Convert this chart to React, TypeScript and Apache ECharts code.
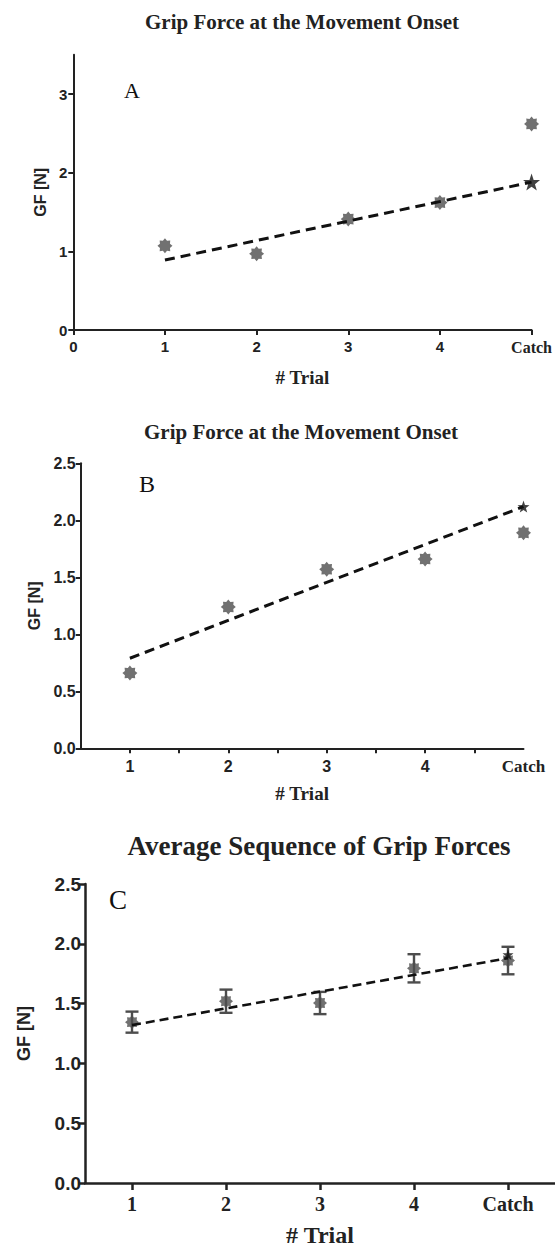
import React, { useEffect, useRef } from "react";
import * as echarts from "echarts";

// ---------- data ----------
const trials = [1, 2, 3, 4, 5];
const xTickLabels = ["1", "2", "3", "4", "Catch"];

// Panel A
const gfA = [1.07, 0.97, 1.41, 1.62, 2.62];
const fitAx = [1, 5];
const fitAy = [0.89, 1.88];
const catchStarA = 1.88;

// Panel B
const gfB = [0.66, 1.24, 1.57, 1.66, 1.89];
const fitBx = [1, 5];
const fitBy = [0.79, 2.12];
const catchStarB = 2.12;

// Panel C (mean ± error)
const gfC = [1.345, 1.52, 1.505, 1.795, 1.86];
const errC = [0.088, 0.097, 0.093, 0.118, 0.115];
const fitCx = [1, 5];
const fitCy = [1.32, 1.88];
const catchStarC = 1.91;

const titleAB = "Grip Force at the Movement Onset";
const titleC = "Average Sequence of Grip Forces";
const yName = "GF [N]";
const xName = "# Trial";

// ---------- symbols ----------
function burstPath(n: number, rOut: number, rIn: number): string {
  const pts: string[] = [];
  for (let i = 0; i < n * 2; i++) {
    const r = i % 2 === 0 ? rOut : rIn;
    const a = (Math.PI * i) / n - Math.PI / 2;
    pts.push(`${(50 + r * Math.cos(a)).toFixed(2)} ${(50 + r * Math.sin(a)).toFixed(2)}`);
  }
  return "path://M" + pts.join(" L") + " Z";
}
const BURST = burstPath(8, 50, 36);
const STAR5 = burstPath(5, 50, 20);

const SERIF = "'Liberation Serif', 'Times New Roman', serif";
const SANS = "'Liberation Sans', Arial, sans-serif";
const AXIS = "#222222";
const GRAY = "#4d4d4d";
const TXT = "#222222";

function pairs(xs: number[], ys: number[]) {
  return xs.map((x, i) => [x, ys[i]]);
}

function labelFormatter(v: number) {
  const idx = trials.indexOf(v);
  if (idx === trials.length - 1) return "{c|" + xTickLabels[idx] + "}";
  if (idx >= 0) return "{n|" + xTickLabels[idx] + "}";
  return "{n|" + v + "}";
}

export default function App() {
  const ref = useRef<HTMLDivElement>(null);

  useEffect(() => {
    if (!ref.current) return;
    const chart = echarts.init(ref.current, null, { renderer: "svg" });

    const yAxisCommon = (idx: number, nameSize: number, nameGap: number, lw: number) => ({
      type: "value",
      gridIndex: idx,
      name: yName,
      nameLocation: "middle",
      nameRotate: 90,
      nameGap,
      nameTextStyle: { fontFamily: SANS, fontWeight: "bold", fontSize: nameSize, color: TXT },
      axisLine: { show: true, lineStyle: { color: AXIS, width: lw } },
      splitLine: { show: false },
    });

    const xRich = (nSize: number, nFamily: string, cSize: number) => ({
      n: { fontFamily: nFamily, fontWeight: "bold", fontSize: nSize, color: TXT },
      c: { fontFamily: SERIF, fontWeight: "bold", fontSize: cSize, color: TXT },
    });

    const option: any = {
      animation: false,
      backgroundColor: "#ffffff",
      grid: [
        { left: 73.3, top: 54.7, width: 458.4, height: 275.3 },
        { left: 80.7, top: 463.3, width: 442.8, height: 285 },
        { left: 85, top: 884, width: 470, height: 300.3 },
      ],
      xAxis: [
        {
          type: "value",
          gridIndex: 0,
          min: 0,
          max: 5,
          interval: 1,
          name: xName,
          nameLocation: "middle",
          nameGap: 38,
          nameTextStyle: { fontFamily: SERIF, fontWeight: "bold", fontSize: 19, color: TXT },
          axisLine: { show: true, onZero: false, lineStyle: { color: AXIS, width: 2 } },
          axisTick: { show: true, length: 5, lineStyle: { color: AXIS, width: 2 } },
          axisLabel: { formatter: (v: number) => (v === 0 ? "{n|0}" : labelFormatter(v)), margin: 9, rich: xRich(15, SANS, 16) },
          splitLine: { show: false },
        },
        {
          type: "value",
          gridIndex: 1,
          min: 0.5,
          max: 5,
          interval: 0.5,
          name: xName,
          nameLocation: "middle",
          nameGap: 36,
          nameTextStyle: { fontFamily: SERIF, fontWeight: "bold", fontSize: 19, color: TXT },
          axisLine: { show: true, onZero: false, lineStyle: { color: AXIS, width: 2 } },
          axisTick: { show: true, length: 5, customValues: [1, 1.5, 2, 2.5, 3, 3.5, 4, 4.5], lineStyle: { color: AXIS, width: 2 } },
          axisLabel: { customValues: trials, formatter: labelFormatter, margin: 10, rich: xRich(16, SANS, 17) },
          splitLine: { show: false },
        },
        {
          type: "value",
          gridIndex: 2,
          min: 0.5,
          max: 5.5,
          interval: 0.5,
          name: xName,
          nameLocation: "middle",
          nameGap: 40,
          nameTextStyle: { fontFamily: SERIF, fontWeight: "bold", fontSize: 24, color: TXT },
          axisLine: { show: true, onZero: false, lineStyle: { color: AXIS, width: 2.5 } },
          axisTick: { show: true, length: 7, customValues: trials, lineStyle: { color: AXIS, width: 2.5 } },
          axisLabel: { customValues: trials, formatter: labelFormatter, margin: 11, rich: xRich(20, SERIF, 20) },
          splitLine: { show: false },
        },
      ],
      yAxis: [
        {
          ...yAxisCommon(0, 16, 24, 2),
          min: 0,
          max: 3.5,
          interval: 0.5,
          axisTick: { show: true, length: 5, customValues: [0, 1, 2, 3], lineStyle: { color: AXIS, width: 2 } },
          axisLabel: { fontFamily: SANS, fontWeight: "bold", fontSize: 15, color: TXT, margin: 6, customValues: [0, 1, 2, 3] },
        },
        {
          ...yAxisCommon(1, 16, 37, 2),
          min: 0,
          max: 2.5,
          interval: 0.5,
          axisTick: { show: true, length: 5, lineStyle: { color: AXIS, width: 2 } },
          axisLabel: { fontFamily: SANS, fontWeight: "bold", fontSize: 16, color: TXT, margin: 5, formatter: (v: number) => v.toFixed(1) },
        },
        {
          ...yAxisCommon(2, 18, 52, 2.5),
          min: 0,
          max: 2.5,
          interval: 0.5,
          axisTick: { show: true, length: 7, lineStyle: { color: AXIS, width: 2.5 } },
          axisLabel: { fontFamily: SANS, fontWeight: "bold", fontSize: 19, color: TXT, margin: 4, formatter: (v: number) => v.toFixed(1) },
        },
      ],
      graphic: [
        { type: "text", x: 302, y: 22, style: { text: titleAB, font: `bold 21px ${SERIF}`, fill: TXT, align: "center", verticalAlign: "middle" } },
        { type: "text", x: 301, y: 432, style: { text: titleAB, font: `bold 21px ${SERIF}`, fill: TXT, align: "center", verticalAlign: "middle" } },
        { type: "text", x: 319, y: 846, style: { text: titleC, font: `bold 27px ${SERIF}`, fill: TXT, align: "center", verticalAlign: "middle" } },
        { type: "text", x: 132, y: 90, style: { text: "A", font: `22px ${SERIF}`, fill: "#111", align: "center", verticalAlign: "middle" } },
        { type: "text", x: 147, y: 484, style: { text: "B", font: `24px ${SERIF}`, fill: "#111", align: "center", verticalAlign: "middle" } },
        { type: "text", x: 118, y: 900, style: { text: "C", font: `27px ${SERIF}`, fill: "#111", align: "center", verticalAlign: "middle" } },
      ],
      series: [
        // Panel A
        { type: "scatter", xAxisIndex: 0, yAxisIndex: 0, data: pairs(trials, gfA), symbol: BURST, symbolSize: 15, itemStyle: { color: GRAY }, z: 3 },
        { type: "line", xAxisIndex: 0, yAxisIndex: 0, data: pairs(fitAx, fitAy), symbol: "none", lineStyle: { color: "#111", width: 3, type: [10, 6] }, z: 4 },
        { type: "scatter", xAxisIndex: 0, yAxisIndex: 0, data: [[5, catchStarA]], symbol: STAR5, symbolSize: 17, itemStyle: { color: "#111" }, z: 5 },
        // Panel B
        { type: "scatter", xAxisIndex: 1, yAxisIndex: 1, data: pairs(trials, gfB), symbol: BURST, symbolSize: 15, itemStyle: { color: GRAY }, z: 3 },
        { type: "line", xAxisIndex: 1, yAxisIndex: 1, data: pairs(fitBx, fitBy), symbol: "none", lineStyle: { color: "#111", width: 3, type: [10, 6] }, z: 4 },
        { type: "scatter", xAxisIndex: 1, yAxisIndex: 1, data: [[5, catchStarB]], symbol: STAR5, symbolSize: 12, itemStyle: { color: "#111" }, z: 5 },
        // Panel C
        {
          type: "custom",
          xAxisIndex: 2,
          yAxisIndex: 2,
          data: trials.map((t, i) => [t, gfC[i], errC[i]]),
          z: 2,
          renderItem: (params: any, api: any) => {
            const x = api.value(0);
            const m = api.value(1);
            const e = api.value(2);
            const top = api.coord([x, m + e]);
            const bot = api.coord([x, m - e]);
            const w = 6.5;
            const st = { stroke: GRAY, lineWidth: 2.4 };
            return {
              type: "group",
              children: [
                { type: "line", shape: { x1: top[0], y1: top[1], x2: bot[0], y2: bot[1] }, style: st },
                { type: "line", shape: { x1: top[0] - w, y1: top[1], x2: top[0] + w, y2: top[1] }, style: st },
                { type: "line", shape: { x1: bot[0] - w, y1: bot[1], x2: bot[0] + w, y2: bot[1] }, style: st },
              ],
            };
          },
        },
        { type: "scatter", xAxisIndex: 2, yAxisIndex: 2, data: pairs(trials, gfC), symbol: BURST, symbolSize: 14, itemStyle: { color: GRAY }, z: 3 },
        { type: "line", xAxisIndex: 2, yAxisIndex: 2, data: pairs(fitCx, fitCy), symbol: "none", lineStyle: { color: "#111", width: 2.6, type: [9, 5] }, z: 4 },
        { type: "scatter", xAxisIndex: 2, yAxisIndex: 2, data: [[5, catchStarC]], symbol: STAR5, symbolSize: 11, itemStyle: { color: "#111" }, z: 5 },
      ],
    };

    chart.setOption(option);
    return () => chart.dispose();
  }, []);

  return <div ref={ref} style={{ position: "absolute", left: 0, top: 0, width: 555, height: 1248 }} />;
}
